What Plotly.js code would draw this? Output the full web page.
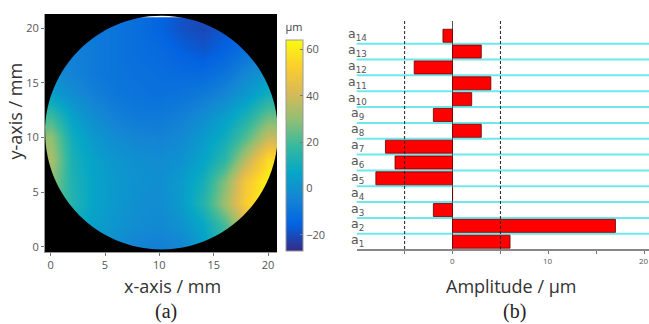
<!DOCTYPE html>
<html>
<head>
<meta charset="utf-8">
<script src="https://cdn.plot.ly/plotly-3.0.1.min.js"></script>
<style>html,body{margin:0;padding:0;background:#fff;}#chart{width:649px;height:324px;}</style>
</head>
<body>
<div id="chart"></div>
<script>
// ---- Surface map (a): values, µm, on a 2 mm grid ----
const gridX = [0, 2, 4, 6, 8, 10, 12, 14, 16, 18, 20];
const gridY = [0, 2, 4, 6, 8, 10, 12, 14, 16, 18, 20];
const row_y0  = [10, 6, 2, -2, -5, -6, -4, 4, 18, 38, 58];
const row_y2  = [15, 10, 4, 1, -2, -3, 0, 7, 20, 40, 60];
const row_y4  = [25, 14, 6, 2, -1, -2, 3, 14, 32, 52, 64];
const row_y6  = [30, 13, 6, 2, 0, -1, 3, 11, 28, 50, 62];
const row_y8  = [34, 12, 5, 1, -1, -2, 0, 6, 16, 36, 56];
const row_y10 = [30, 10, 2, -2, -4, -5, -3, 3, 10, 22, 38];
const row_y12 = [18, 5, -2, -6, -8, -8, -6, -2, 4, 12, 24];
const row_y14 = [4, -2, -6, -9, -10, -11, -10, -8, -4, 2, 10];
const row_y16 = [-2, -5, -8, -10, -11, -12, -13, -13, -10, -4, 2];
const row_y18 = [-4, -6, -8, -10, -12, -13, -16, -18, -15, -11, -5];
const row_y20 = [-4, -6, -8, -10, -12, -15, -19, -21, -18, -14, -10];
const surfaceRows = [row_y0, row_y2, row_y4, row_y6, row_y8, row_y10, row_y12, row_y14, row_y16, row_y18, row_y20];
const xTickVals = [0, 5, 10, 15, 20];
const yTickVals = [0, 5, 10, 15, 20];
const cbTickVals = [-20, 0, 20, 40, 60];

// ---- Coefficients (b) ----
const coefNames = ['a1','a2','a3','a4','a5','a6','a7','a8','a9','a10','a11','a12','a13','a14'];
const coefAmps  = [6, 17, -2, 0, -8, -6, -7, 3, -2, 2, 4, -4, 3, -1];
const ampTickVals = [-5, 0, 5, 10, 15, 20];
const ampTickText = ['', '0', '', '10', '', '20'];
const limitLines = [-5, 5];

const W = 649, H = 324;
const px = v => v / W;
const py = v => (H - v) / H;

const parula = [
  [0.0, '#352a87'], [0.125, '#0363e1'], [0.25, '#1485d4'], [0.375, '#06a7c6'],
  [0.5, '#38b99e'], [0.625, '#92bf73'], [0.75, '#d9ba56'], [0.875, '#fcce2e'], [1.0, '#f9fb0e']
];

// aperture mask (black outside the circular pupil)
const cx = 10.2, cy = 10.45, r = 10.7, k = 0.5523 * r;
const maskPath =
  'M -3,-3 H 24 V 24 H -3 Z ' +
  `M ${cx + r},${cy} C ${cx + r},${cy + k} ${cx + k},${cy + r} ${cx},${cy + r} ` +
  `C ${cx - k},${cy + r} ${cx - r},${cy + k} ${cx - r},${cy} ` +
  `C ${cx - r},${cy - k} ${cx - k},${cy - r} ${cx},${cy - r} ` +
  `C ${cx + k},${cy - r} ${cx + r},${cy - k} ${cx + r},${cy} Z`;

const tickFont = {family: 'Open Sans, sans-serif', size: 11, color: '#555'};

const heat = {
  type: 'heatmap', x: gridX, y: gridY, z: surfaceRows,
  colorscale: parula, zmin: -27, zmax: 64, zsmooth: 'best',
  xaxis: 'x', yaxis: 'y', hoverinfo: 'skip',
  colorbar: {
    thickness: 17, lenmode: 'pixels', len: 231,
    x: px(286), xanchor: 'left', y: py(251), yanchor: 'bottom',
    xpad: 0, ypad: 0, outlinewidth: 1, outlinecolor: '#999',
    ticks: 'inside', ticklen: 3, tickcolor: '#777',
    tickvals: cbTickVals, tickfont: tickFont,
    title: {text: 'µm', side: 'top', font: {family: 'Open Sans, sans-serif', size: 11, color: '#444'}}
  }
};

const bars = {
  type: 'bar', orientation: 'h', x: coefAmps, y: coefNames,
  width: 0.82, xaxis: 'x2', yaxis: 'y2',
  marker: {color: '#ff0000', line: {color: '#6a0000', width: 0.8}},
  hoverinfo: 'skip'
};

const shapes = [
  {type: 'path', path: maskPath, xref: 'x', yref: 'y', fillcolor: '#000', fillrule: 'evenodd',
   line: {width: 0}, layer: 'above'}
];
for (let i = 0; i < coefNames.length - 1; i++) {
  shapes.push({type: 'line', xref: 'x2 domain', x0: 0, x1: 1, yref: 'y2', y0: i + 0.5, y1: i + 0.5,
    line: {color: 'rgb(110,232,235)', width: 2}, layer: 'below'});
}
limitLines.forEach(v => shapes.push({type: 'line', xref: 'x2', x0: v, x1: v, yref: 'y2 domain', y0: 0, y1: 1,
  line: {color: '#222', width: 1, dash: '3px,2px'}, layer: 'above'}));

const titleFont = {family: 'Open Sans, sans-serif', size: 18, color: '#333'};
const annotations = [
  {text: 'x-axis / mm', xref: 'paper', yref: 'paper', x: px(172.5), y: py(286), xanchor: 'center', yanchor: 'middle', showarrow: false, font: titleFont},
  {text: 'y-axis / mm', xref: 'paper', yref: 'paper', x: px(15), y: py(111.5), xanchor: 'center', yanchor: 'middle', textangle: -90, showarrow: false, font: titleFont},
  {text: '(a)', xref: 'paper', yref: 'paper', x: px(166), y: py(311), xanchor: 'center', yanchor: 'middle', showarrow: false, font: {family: 'Liberation Serif, serif', size: 20, color: '#222'}},
  {text: 'Amplitude / µm', xref: 'paper', yref: 'paper', x: px(511), y: py(286), xanchor: 'center', yanchor: 'middle', showarrow: false, font: titleFont},
  {text: '(b)', xref: 'paper', yref: 'paper', x: px(514), y: py(311), xanchor: 'center', yanchor: 'middle', showarrow: false, font: {family: 'Liberation Serif, serif', size: 20, color: '#222'}}
];
coefNames.forEach(n => annotations.push({
  text: 'a<sub>' + n.slice(1) + '</sub>', xref: 'paper', yref: 'y2', x: px(357.5), y: n,
  xanchor: 'center', yanchor: 'middle', yshift: 1, showarrow: false,
  font: {family: 'DejaVu Sans, sans-serif', size: 12.5, color: '#555'}
}));
// amplitude axis tick labels (drawn as annotations so the one at the right edge is kept)
ampTickVals.forEach((v, i) => {
  if (!ampTickText[i]) return;
  annotations.push({text: ampTickText[i], xref: 'x2', x: v, yref: 'paper', y: py(253),
    xanchor: 'center', yanchor: 'top', showarrow: false,
    font: {family: 'Open Sans, sans-serif', size: 8, color: '#555'}});
});

const layout = {
  width: W, height: H, margin: {l: 0, r: 0, t: 0, b: 0},
  paper_bgcolor: '#fff', plot_bgcolor: '#fff', showlegend: false,
  xaxis: {domain: [px(45), px(277)], range: [-0.52, 20.82], anchor: 'y',
    tickvals: xTickVals, ticks: 'outside', ticklen: 3, tickcolor: '#777',
    showgrid: false, zeroline: false, showline: true, linecolor: '#999', tickfont: tickFont},
  yaxis: {domain: [py(252), py(14)], range: [-0.49, 21.3], anchor: 'x',
    tickvals: yTickVals, ticks: 'outside', ticklen: 3, tickcolor: '#777',
    showgrid: false, zeroline: false, showline: true, linecolor: '#999', tickfont: tickFont},
  xaxis2: {domain: [px(356.7), 1], range: [-10, 20.5], anchor: 'y2',
    tickvals: ampTickVals, ticks: 'outside', ticklen: 3, tickcolor: '#777',
    showticklabels: false,
    showgrid: false, zeroline: true, zerolinecolor: '#555', zerolinewidth: 1,
    showline: true, linecolor: '#888', linewidth: 1.5},
  yaxis2: {domain: [py(249), py(20.7)], type: 'category', categoryorder: 'array', categoryarray: coefNames,
    range: [-0.46, 13.95], anchor: 'x2', showticklabels: false, showgrid: false, zeroline: false, showline: false, ticks: ''},
  shapes: shapes,
  annotations: annotations
};

Plotly.newPlot('chart', [heat, bars], layout, {staticPlot: true, displayModeBar: false});
</script>
</body>
</html>
